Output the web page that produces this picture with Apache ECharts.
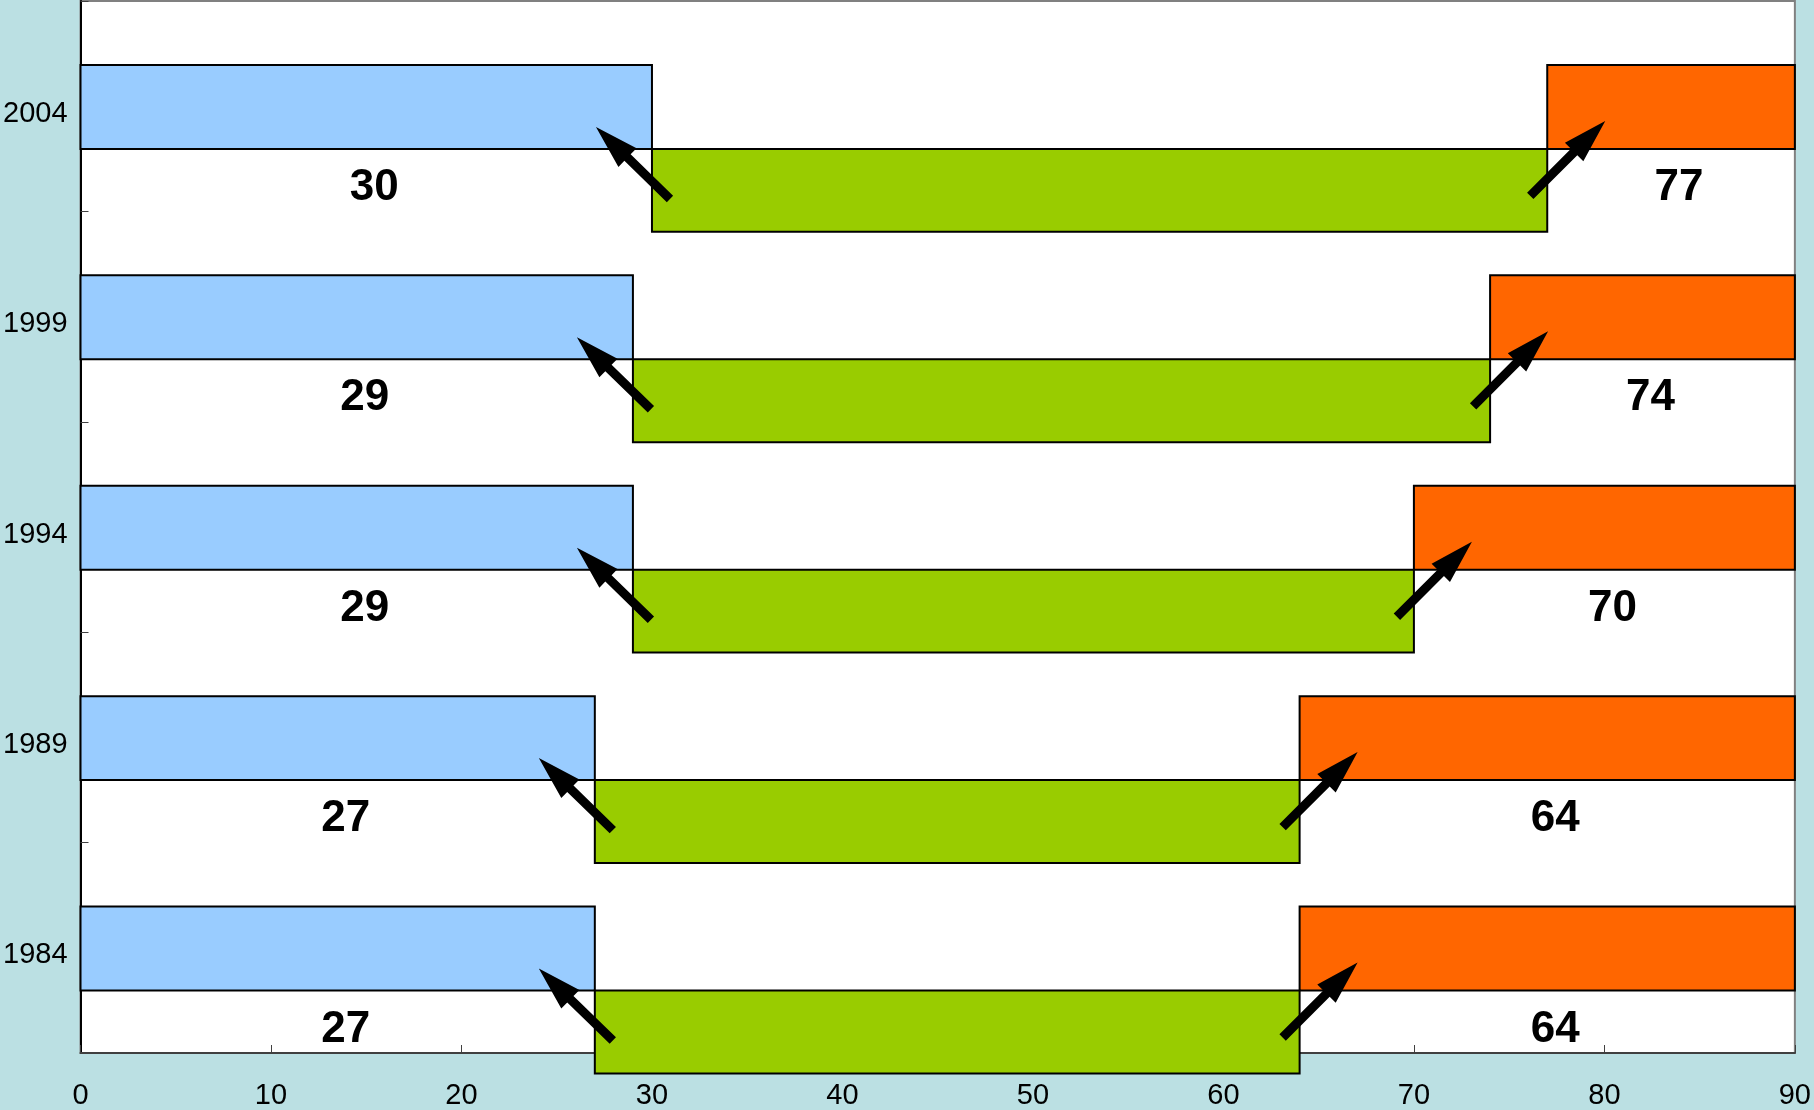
<!DOCTYPE html>
<html>
<head>
<meta charset="utf-8">
<title>Shift of age bands, 1984–2004</title>
<script src="https://cdn.jsdelivr.net/npm/echarts@6/dist/echarts.min.js"></script>
<style>
  html, body { margin: 0; padding: 0; background: #BBE0E3; }
  #chart { width: 1814px; height: 1110px; }
</style>
</head>
<body>
<div id="chart"></div>
<script>
// Survey years, bottom to top
const years = ['1984', '1989', '1994', '1999', '2004'];
// Lower boundary of the middle band (end of the blue bar)
const lowerBounds = [27, 27, 29, 29, 30];
// Upper boundary of the middle band (start of the orange bar)
const upperBounds = [64, 64, 70, 74, 77];
// Horizontal scale
const xMin = 0;
const xMax = 90;
const xStep = 10;

const FONT = "'Liberation Sans', Arial, Helvetica, sans-serif";
const COLORS = { low: '#99CCFF', mid: '#99CC00', high: '#FF6600', edge: '#000000' };

const rows = years.map((y, i) => [i, lowerBounds[i], upperBounds[i]]);

// Filled arrow from (x1,y1) to the tip (x2,y2)
function arrowPoints(x1, y1, x2, y2) {
  const dx = x2 - x1, dy = y2 - y1;
  const len = Math.sqrt(dx * dx + dy * dy);
  const ux = dx / len, uy = dy / len;
  const nx = -uy, ny = ux;
  const shaft = 4.5, headLen = 44, headHalf = 13;
  const bx = x2 - ux * headLen, by = y2 - uy * headLen;
  return [
    [x1 + nx * shaft, y1 + ny * shaft],
    [bx + nx * shaft, by + ny * shaft],
    [bx + nx * headHalf, by + ny * headHalf],
    [x2, y2],
    [bx - nx * headHalf, by - ny * headHalf],
    [bx - nx * shaft, by - ny * shaft],
    [x1 - nx * shaft, y1 - ny * shaft]
  ];
}

function renderRow(params, api) {
  const cat = api.value(0);
  const lo = api.value(1);
  const hi = api.value(2);
  const band = api.size([0, 1])[1];
  const centerY = api.coord([xMin, cat])[1];
  const bandTop = centerY - band / 2;
  const x0 = api.coord([xMin, cat])[0];
  const xl = api.coord([lo, cat])[0];
  const xr = api.coord([hi, cat])[0];
  const xe = api.coord([xMax, cat])[0];

  const upperTop = bandTop + band * 0.304;
  const upperBot = bandTop + band * 0.703;
  const lowerBot = bandTop + band * 1.097;
  const labelY = bandTop + band * 0.888;

  const stroke = { stroke: COLORS.edge, lineWidth: 2 };

  return {
    type: 'group',
    children: [
      { type: 'rect', shape: { x: x0, y: upperTop, width: xl - x0, height: upperBot - upperTop },
        style: Object.assign({ fill: COLORS.low }, stroke) },
      { type: 'rect', shape: { x: xr, y: upperTop, width: xe - xr, height: upperBot - upperTop },
        style: Object.assign({ fill: COLORS.high }, stroke) },
      { type: 'rect', shape: { x: xl, y: upperBot, width: xr - xl, height: lowerBot - upperBot },
        style: Object.assign({ fill: COLORS.mid }, stroke) },
      { type: 'polygon', shape: { points: arrowPoints(xl + 18, upperBot + 50, xl - 56, upperBot - 22) },
        style: { fill: '#000' } },
      { type: 'polygon', shape: { points: arrowPoints(xr - 17, upperBot + 47, xr + 58, upperBot - 28) },
        style: { fill: '#000' } },
      { type: 'text', x: (x0 + xl) / 2 + 8, y: labelY,
        style: { text: String(lo), fill: '#000', font: 'bold 44px ' + FONT, align: 'center', verticalAlign: 'middle' } },
      { type: 'text', x: (xr + xe) / 2 + 8, y: labelY,
        style: { text: String(hi), fill: '#000', font: 'bold 44px ' + FONT, align: 'center', verticalAlign: 'middle' } }
    ]
  };
}

const chart = echarts.init(document.getElementById('chart'), null, { renderer: 'canvas' });

chart.setOption({
  backgroundColor: '#BBE0E3',
  animation: false,
  textStyle: { fontFamily: FONT },
  grid: {
    left: 80, right: 14, top: 1, bottom: 57,
    show: true, backgroundColor: '#FFFFFF', borderColor: '#808080', borderWidth: 2,
    containLabel: false
  },
  xAxis: {
    type: 'value',
    min: xMin, max: xMax, interval: xStep,
    splitLine: { show: false },
    axisLine: { show: true, lineStyle: { color: '#404040', width: 2 } },
    axisTick: { show: true, inside: true, length: 8, lineStyle: { color: '#404040', width: 1 } },
    axisLabel: { color: '#000', fontSize: 29, margin: 28, fontFamily: FONT }
  },
  yAxis: {
    type: 'category',
    data: years,
    boundaryGap: true,
    splitLine: { show: false },
    axisLine: { show: true, lineStyle: { color: '#000', width: 2 } },
    axisTick: { show: true, inside: true, length: 8, lineStyle: { color: '#404040', width: 1 } },
    axisLabel: { color: '#000', fontSize: 29, margin: 13, verticalAlign: 'top', lineHeight: 15, fontFamily: FONT }
  },
  series: [{
    type: 'custom',
    clip: false,
    renderItem: renderRow,
    encode: { x: [1, 2], y: 0 },
    data: rows,
    z: 3
  }]
});
</script>
</body>
</html>
